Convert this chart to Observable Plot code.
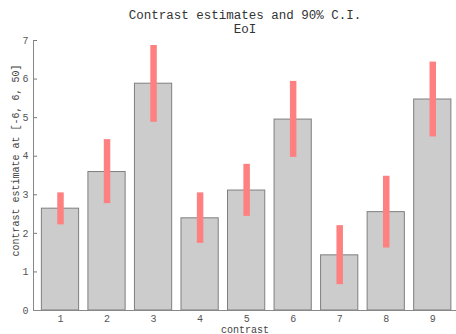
<!DOCTYPE html>
<html>
<head>
<meta charset="utf-8">
<script src="https://cdn.jsdelivr.net/npm/d3@7"></script>
<script src="https://cdn.jsdelivr.net/npm/@observablehq/plot@0.6"></script>
<style>
  html, body { margin: 0; padding: 0; background: #fff; }
  svg { display: block; }
</style>
</head>
<body>
<div id="chart"></div>
<script>
// Contrast indices and their estimates
const contrasts = [1, 2, 3, 4, 5, 6, 7, 8, 9];
const estimates = [2.64, 3.59, 5.88, 2.39, 3.11, 4.95, 1.43, 2.55, 5.47];
// 90% confidence interval bounds
const ciLow  = [2.22, 2.77, 4.88, 1.74, 2.44, 3.97, 0.67, 1.62, 4.50];
const ciHigh = [3.05, 4.43, 6.87, 3.05, 3.79, 5.94, 2.20, 3.48, 6.44];
const yTicks = [0, 1, 2, 3, 4, 5, 6, 7];

const titleText = "Contrast estimates and 90% C.I.";
const subtitleText = "EoI";
const xLabel = "contrast";
const yLabel = "contrast estimate at [-6, 6, 50]";

const rows = contrasts.map((c, i) => ({c, est: estimates[i], lo: ciLow[i], hi: ciHigh[i]}));
const halfWidth = 0.4;
const xMin = 0.42, xMax = 9.51;

const font = "'Liberation Mono', 'Courier New', monospace";

const chart = Plot.plot({
  width: 456,
  height: 334,
  marginTop: 40,
  marginBottom: 24,
  marginLeft: 33,
  marginRight: 0,
  style: {fontFamily: font, fontSize: "10px", color: "#555", background: "#fff"},
  x: {domain: [xMin, xMax], label: null},
  y: {domain: [0, 7], label: null},
  marks: [
    Plot.axisY({ticks: yTicks, tickFormat: d3.format("d"), tickSize: -4, tickPadding: 9, stroke: "#777", fill: "#555", label: null}),
    Plot.axisX({ticks: contrasts, tickFormat: d3.format("d"), tickSize: 0, tickPadding: 4, fill: "#555", label: null}),
    Plot.rectY(rows, {
      x1: d => d.c - halfWidth,
      x2: d => d.c + halfWidth,
      y1: 0,
      y2: "est",
      fill: "#cccccc",
      stroke: "#7f7f7f",
      strokeWidth: 1
    }),
    Plot.ruleX(rows, {x: "c", y1: "lo", y2: "hi", stroke: "#ff8080", strokeWidth: 6.5}),
    Plot.ruleX([xMin], {stroke: "#888", strokeWidth: 1}),
    Plot.ruleY([0], {stroke: "#888", strokeWidth: 1}),
    Plot.text([titleText], {frameAnchor: "top", lineAnchor: "bottom", dy: -22, fontSize: 12.5, fill: "#333", fontFamily: font}),
    Plot.text([subtitleText], {frameAnchor: "top", lineAnchor: "bottom", dy: -8, fontSize: 12.5, fill: "#333", fontFamily: font}),
    Plot.text([xLabel], {frameAnchor: "bottom", lineAnchor: "bottom", dy: 22, fontSize: 10, fill: "#444", fontFamily: font}),
    Plot.text([yLabel], {frameAnchor: "left", textAnchor: "middle", dx: -18, dy: -15, rotate: -90, fontSize: 10, fill: "#444", fontFamily: font})
  ]
});

document.getElementById("chart").appendChild(chart);
</script>
</body>
</html>
